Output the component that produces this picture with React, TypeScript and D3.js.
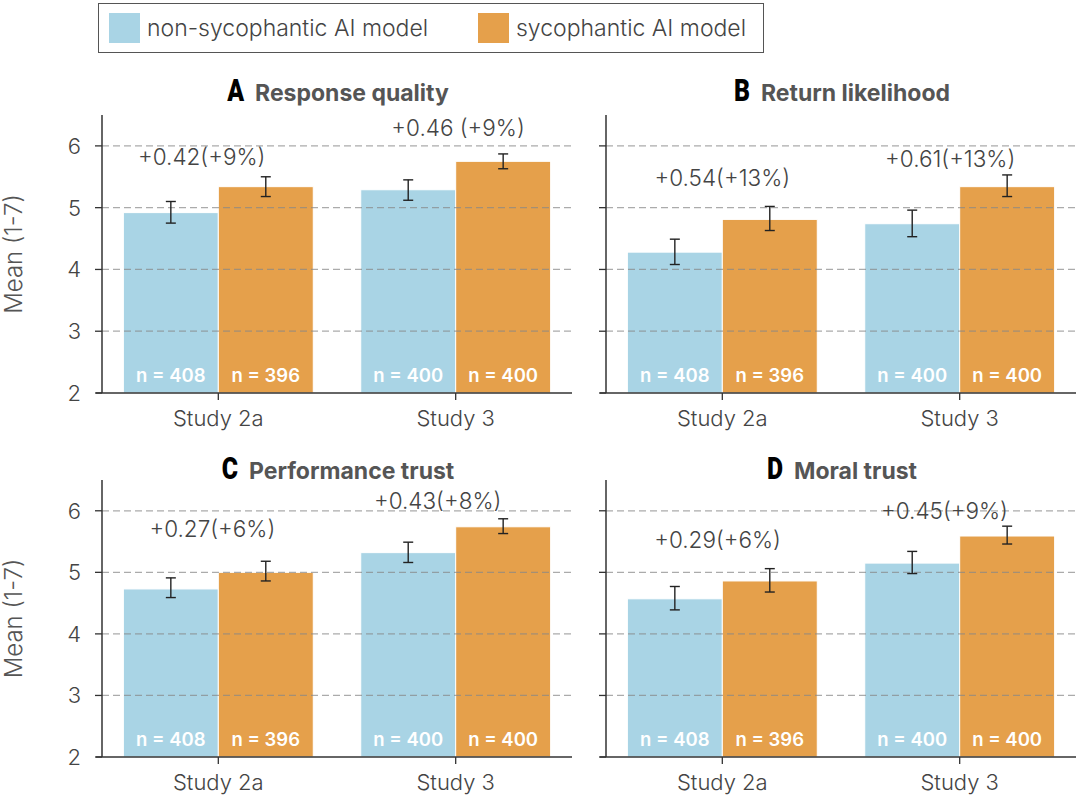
import React, { useRef, useEffect } from "react";
import * as d3 from "d3";

const studies = ["Study 2a", "Study 3"];
const groupNames = ["non-sycophantic AI model", "sycophantic AI model"];
const panelLetters = ["A", "B", "C", "D"];
const panelTitles = ["Response quality", "Return likelihood", "Performance trust", "Moral trust"];

// means per panel, [Study 2a, Study 3]
const nonSycMeans = [[4.92, 5.29], [4.28, 4.74], [4.73, 5.32], [4.57, 5.15]];
const sycMeans = [[5.34, 5.75], [4.81, 5.34], [5.0, 5.74], [4.86, 5.59]];
// error bar ends
const nonSycLow = [[4.75, 5.12], [4.08, 4.53], [4.59, 5.16], [4.39, 4.98]];
const nonSycHigh = [[5.1, 5.45], [4.49, 4.96], [4.91, 5.49], [4.77, 5.34]];
const sycLow = [[5.18, 5.63], [4.63, 5.18], [4.86, 5.63], [4.68, 5.46]];
const sycHigh = [[5.5, 5.87], [5.02, 5.53], [5.18, 5.87], [5.06, 5.75]];

const nonSycN = [408, 400];
const sycN = [396, 400];

const diffLabels = [
  ["+0.42(+9%)", "+0.46 (+9%)"],
  ["+0.54(+13%)", "+0.61(+13%)"],
  ["+0.27(+6%)", "+0.43(+8%)"],
  ["+0.29(+6%)", "+0.45(+9%)"],
];
const diffLabelY = [[5.82, 6.29], [5.48, 5.79], [5.71, 6.15], [5.53, 6.0]];
const diffLabelDx = [[-0.07, 0.01], [0, -0.04], [-0.025, -0.076], [-0.02, -0.064]];

const yTicks = [2, 3, 4, 5, 6];

const colors = ["#a9d4e5", "#e5a04b"];
const FONT = "Inter, 'Noto Sans', sans-serif";

const W = 1080;
const H = 799;

const Chart: React.FC = () => {
  const svgRef = useRef<SVGSVGElement>(null);

  useEffect(() => {
    if (!svgRef.current) return;
    const svg = d3.select(svgRef.current);
    svg.selectAll("*").remove();

    const cols = [{ left: 102, right: 572 }, { left: 606, right: 1076 }];
    const rows = [
      { top: 115, bottom: 393, titleY: 101 },
      { top: 480, bottom: 757, titleY: 479 },
    ];

    // legend
    const lg = svg.append("g");
    lg.append("rect")
      .attr("x", 98.5).attr("y", 3.5).attr("width", 665).attr("height", 49)
      .attr("fill", "white").attr("stroke", "#555").attr("stroke-width", 1);
    const legendX = [109, 478];
    groupNames.forEach((name, i) => {
      lg.append("rect")
        .attr("x", legendX[i]).attr("y", 13).attr("width", 31).attr("height", 30)
        .attr("fill", colors[i]);
      lg.append("text")
        .attr("x", legendX[i] + 38).attr("y", 28).attr("dy", "0.35em")
        .attr("font-family", FONT).attr("font-size", 23).attr("font-weight", 300)
        .attr("fill", "#444")
        .text(name);
    });

    panelTitles.forEach((title, p) => {
      const col = cols[p % 2];
      const row = rows[Math.floor(p / 2)];
      const g = svg.append("g");

      const x = d3.scaleLinear().domain([-0.49, 1.49]).range([col.left, col.right]);
      const y = d3.scaleLinear().domain([2, 6.5]).range([row.bottom, row.top]);
      const bw = x(0.4) - x(0);

      // bars
      studies.forEach((_, s) => {
        const vals = [nonSycMeans[p][s], sycMeans[p][s]];
        const ns = [nonSycN[s], sycN[s]];
        vals.forEach((v, k) => {
          const x0 = x(s + (k === 0 ? -0.4 : 0));
          g.append("rect")
            .attr("x", x0).attr("y", y(v))
            .attr("width", bw).attr("height", y(2) - y(v))
            .attr("fill", colors[k]).attr("stroke", "white").attr("stroke-width", 1);
          g.append("text")
            .attr("x", x0 + bw / 2).attr("y", y(2) - 11)
            .attr("text-anchor", "middle")
            .attr("font-family", FONT).attr("font-size", 18.5).attr("font-weight", 600)
            .attr("fill", "white")
            .text(`n = ${ns[k]}`);
        });
      });

      // gridlines over the bars
      yTicks.slice(1).forEach((t) => {
        g.append("line")
          .attr("x1", col.left).attr("x2", col.right)
          .attr("y1", y(t)).attr("y2", y(t))
          .attr("stroke", "#888").attr("stroke-opacity", 0.7)
          .attr("stroke-width", 1.3).attr("stroke-dasharray", "7,4");
      });

      // error bars + difference labels
      studies.forEach((_, s) => {
        const lows = [nonSycLow[p][s], sycLow[p][s]];
        const highs = [nonSycHigh[p][s], sycHigh[p][s]];
        lows.forEach((lo, k) => {
          const cx = x(s + (k === 0 ? -0.2 : 0.2));
          const hi = highs[k];
          const eg = g.append("g").attr("stroke", "#222").attr("stroke-width", 1.4);
          eg.append("line").attr("x1", cx).attr("x2", cx).attr("y1", y(lo)).attr("y2", y(hi));
          eg.append("line").attr("x1", cx - 5).attr("x2", cx + 5).attr("y1", y(lo)).attr("y2", y(lo));
          eg.append("line").attr("x1", cx - 5).attr("x2", cx + 5).attr("y1", y(hi)).attr("y2", y(hi));
        });
        g.append("text")
          .attr("x", x(s + diffLabelDx[p][s])).attr("y", y(diffLabelY[p][s]))
          .attr("dy", "0.35em").attr("text-anchor", "middle")
          .attr("font-family", FONT).attr("font-size", 22.5).attr("font-weight", 300)
          .attr("fill", "#444")
          .text(diffLabels[p][s]);
      });

      // spines
      g.append("line")
        .attr("x1", col.left).attr("x2", col.left)
        .attr("y1", row.top).attr("y2", row.bottom)
        .attr("stroke", "#333").attr("stroke-width", 1.5);
      g.append("line")
        .attr("x1", col.left - 6).attr("x2", col.right)
        .attr("y1", row.bottom).attr("y2", row.bottom)
        .attr("stroke", "#333").attr("stroke-width", 1.5);

      // y ticks
      yTicks.forEach((t) => {
        g.append("line")
          .attr("x1", col.left - 7).attr("x2", col.left)
          .attr("y1", y(t)).attr("y2", y(t))
          .attr("stroke", "#333").attr("stroke-width", 1.3);
        if (p % 2 === 0) {
          g.append("text")
            .attr("x", col.left - 21).attr("y", y(t)).attr("dy", "0.36em")
            .attr("text-anchor", "end")
            .attr("font-family", FONT).attr("font-size", 22).attr("font-weight", 300)
            .attr("fill", "#444")
            .text(t);
        }
      });

      // x ticks
      studies.forEach((st, s) => {
        g.append("line")
          .attr("x1", x(s)).attr("x2", x(s))
          .attr("y1", row.bottom).attr("y2", row.bottom + 7)
          .attr("stroke", "#333").attr("stroke-width", 1.3);
        g.append("text")
          .attr("x", x(s)).attr("y", row.bottom + 33)
          .attr("text-anchor", "middle")
          .attr("font-family", FONT).attr("font-size", 22).attr("font-weight", 300)
          .attr("fill", "#444")
          .text(st);
      });

      if (p % 2 === 0) {
        const cy = (row.top + row.bottom) / 2;
        g.append("text")
          .attr("transform", `translate(22,${cy}) rotate(-90)`)
          .attr("text-anchor", "middle")
          .attr("font-family", FONT).attr("font-size", 24).attr("font-weight", 300)
          .attr("fill", "#555")
          .text("Mean (1-7)");
      }

      // title: condensed heavy letter + bold grey subtitle, centred on the axes
      const tg = g.append("g");
      const letter = tg.append("text")
        .attr("transform", "scale(0.8,1)")
        .attr("x", 0).attr("y", 0)
        .attr("font-family", "Roboto, Inter, sans-serif")
        .attr("font-weight", 900).attr("font-size", 31).attr("fill", "#000")
        .text(panelLetters[p]);
      const letterW = (letter.node() as SVGTextElement).getComputedTextLength() * 0.8;
      const sub = tg.append("text")
        .attr("x", letterW + 11).attr("y", 0)
        .attr("font-family", FONT).attr("font-weight", 700).attr("font-size", 23)
        .attr("fill", "#555")
        .text(title);
      const subW = (sub.node() as SVGTextElement).getComputedTextLength();
      const totalW = letterW + 11 + subW;
      const cx = (col.left + col.right) / 2 + 1;
      tg.attr("transform", `translate(${cx - totalW / 2},${row.titleY})`);
    });
  }, []);

  return (
    <svg
      ref={svgRef}
      width={W}
      height={H}
      style={{ position: "absolute", left: 0, top: 0, background: "white" }}
    />
  );
};

export default function App() {
  return <Chart />;
}
